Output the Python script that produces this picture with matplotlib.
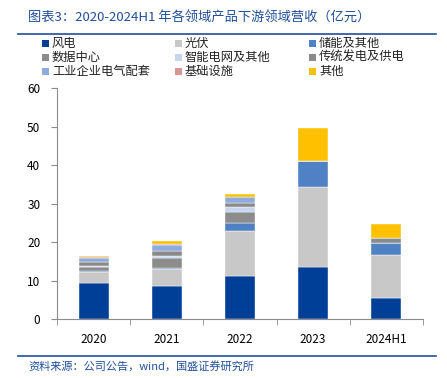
import numpy as np
import matplotlib.pyplot as plt
from matplotlib.patches import Rectangle
from matplotlib.lines import Line2D

plt.rcParams['font.family'] = ['Noto Sans CJK SC', 'DejaVu Sans']

# data (亿元)
years = ['2020', '2021', '2022', '2023', '2024H1']
series = ['风电', '光伏', '储能及其他', '数据中心', '智能电网及其他',
          '传统发电及供电', '工业企业电气配套', '基础设施', '其他']
wind      = [9.3, 8.5, 11.3, 13.5, 5.5]
solar     = [3.0, 4.4, 11.6, 20.8, 11.1]
storage   = [0.3, 0.3, 2.0, 6.7, 3.2]
datacen   = [1.0, 2.6, 3.0, 0.0, 0.0]
grid      = [0.2, 0.5, 1.3, 0.0, 0.0]
tradition = [1.0, 1.5, 1.1, 0.0, 1.4]
industry  = [1.2, 1.5, 1.4, 0.0, 0.0]
infra     = [0.1, 0.2, 0.1, 0.0, 0.0]
other     = [0.4, 0.7, 0.7, 8.7, 3.5]
values = [wind, solar, storage, datacen, grid, tradition, industry, infra, other]
colors = ['#003F98', '#C8C8C8', '#4F81C4', '#8C8C8C', '#C5D6EE',
          '#8A8A8A', '#8FAADC', '#D99594', '#FFC000']

W, H = 447, 378
fig = plt.figure(figsize=(W / 100, H / 100), dpi=100)
ax = fig.add_axes([0.1275, 0.156, 0.8185, 0.61])

x = np.arange(len(years))
bottom = np.zeros(len(years))
for name, vals, c in zip(series, values, colors):
    ax.bar(x, vals, bottom=bottom, width=0.41, color=c, label=name,
           edgecolor='white', linewidth=0.3)
    bottom += np.array(vals)

ax.set_xlim(-0.5, 4.5)
ax.set_ylim(0, 60)
ax.set_yticks(range(0, 61, 10))
ax.set_xticks(x)
ax.set_xticklabels(years)
ax.set_xticks(np.arange(-0.5, 4.6, 1), minor=True)
ax.tick_params(axis='x', which='major', length=0, pad=10, labelsize=8.5)
ax.tick_params(axis='x', which='minor', length=4, color='#8C8C8C', direction='out')
ax.tick_params(axis='y', length=4, color='#8C8C8C', labelsize=8.5, pad=8)
for s in ['top', 'right']:
    ax.spines[s].set_visible(False)
for s in ['left', 'bottom']:
    ax.spines[s].set_color('#8C8C8C')
    ax.spines[s].set_linewidth(0.8)

# legend drawn by hand, row by row, three columns
col_x = [45, 178, 312]
row_y = [43, 57, 71]
sq = 7
for i, (name, c) in enumerate(zip(series, colors)):
    px, py = col_x[i % 3], row_y[i // 3]
    fig.add_artist(Rectangle(((px - sq / 2) / W, 1 - (py + sq / 2) / H), sq / W, sq / H,
                             facecolor=c, edgecolor='none', transform=fig.transFigure))
    fig.text((px + 7) / W, 1 - py / H, name, fontsize=8.8, va='center', color='#222222')

# title, rules and source line
blue = '#1F4E9A'
fig.text(0.063, 0.952, '图表3：2020-2024H1 年各领域产品下游领域营收（亿元）',
         color=blue, fontsize=9.5, style='italic', va='center')
fig.add_artist(Line2D([0.04, 0.975], [0.91, 0.91], color=blue, lw=1.2))
fig.add_artist(Line2D([0.04, 0.975], [0.058, 0.058], color=blue, lw=1.2))
fig.text(0.063, 0.032, '资料来源：公司公告，wind，国盛证券研究所',
         color=blue, fontsize=8, style='italic', va='center')

fig.savefig('out.png', dpi=100)
